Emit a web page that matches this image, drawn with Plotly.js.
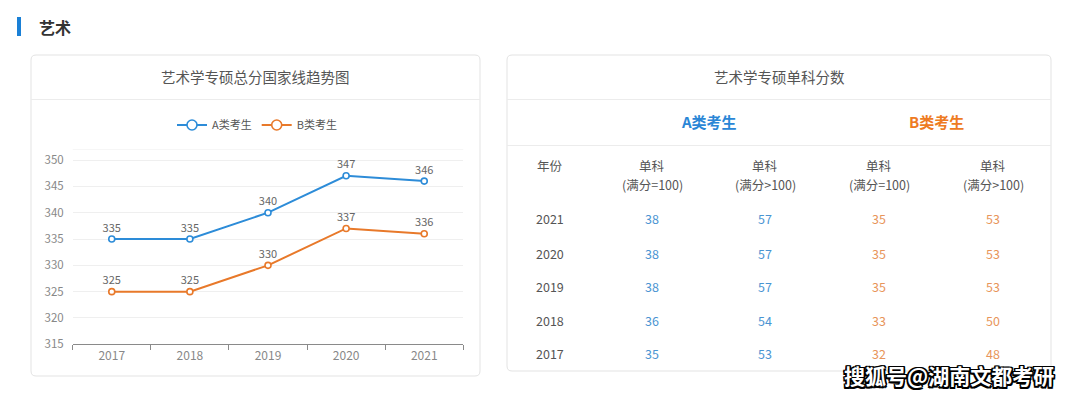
<!DOCTYPE html>
<html>
<head>
<meta charset="utf-8">
<script src="https://cdn.plot.ly/plotly-3.0.1.min.js"></script>
<style>
html,body{margin:0;padding:0;background:#fff;}
#chart{width:1080px;height:394px;}
</style>
</head>
<body>
<div id="chart"></div>
<script>
// ---- data ----
const years = ['2017', '2018', '2019', '2020', '2021'];
const scoreA = [335, 335, 340, 347, 346];
const scoreB = [325, 325, 330, 337, 336];
const seriesNames = ['A类考生', 'B类考生'];
const yTicks = [315, 320, 325, 330, 335, 340, 345, 350];

const tableYears = ['2021', '2020', '2019', '2018', '2017'];
const aSingleEq = [38, 38, 38, 36, 35];
const aSingleGt = [57, 57, 57, 54, 53];
const bSingleEq = [35, 35, 35, 33, 32];
const bSingleGt = [53, 53, 53, 50, 48];
const tableHeadTop = ['年份', '单科', '单科', '单科', '单科'];
const tableHeadSub = ['', '(满分=100)', '(满分>100)', '(满分=100)', '(满分>100)'];

// ---- layout helpers ----
const W = 1080, H = 394;
const px = x => x / W;
const py = y => 1 - y / H;
const FONT = '"Noto Sans CJK SC", "Noto Sans", sans-serif';
const BLUE = '#2d8cd8';
const ORANGE = '#e8792a';
const BLUE_T = '#4a94d2';
const ORANGE_T = '#e8955a';

function rrect(x0, y0, x1, y1, r) {
  const rx = r / W, ry = r / H;
  const X0 = px(x0), X1 = px(x1), T = py(y0), B = py(y1);
  return `M${X0 + rx},${T} L${X1 - rx},${T} Q${X1},${T} ${X1},${T - ry} L${X1},${B + ry} Q${X1},${B} ${X1 - rx},${B} L${X0 + rx},${B} Q${X0},${B} ${X0},${B + ry} L${X0},${T - ry} Q${X0},${T} ${X0 + rx},${T} Z`;
}

const shapes = [
  // section marker
  {type: 'rect', xref: 'paper', yref: 'paper', x0: px(17), x1: px(21), y0: py(17), y1: py(36), fillcolor: '#1a80d6', line: {width: 0}, layer: 'below'},
  // left card
  {type: 'path', xref: 'paper', yref: 'paper', path: rrect(31, 55, 480, 376, 5), fillcolor: '#fff', line: {color: '#e3e3e3', width: 1}, layer: 'below'},
  {type: 'line', xref: 'paper', yref: 'paper', x0: px(31), x1: px(480), y0: py(99.5), y1: py(99.5), line: {color: '#ececec', width: 1}, layer: 'below'},
  // right card
  {type: 'path', xref: 'paper', yref: 'paper', path: rrect(507, 55, 1051, 371, 5), fillcolor: '#fff', line: {color: '#e3e3e3', width: 1}, layer: 'below'},
  {type: 'line', xref: 'paper', yref: 'paper', x0: px(507), x1: px(1051), y0: py(99.5), y1: py(99.5), line: {color: '#ececec', width: 1}, layer: 'below'},
  {type: 'line', xref: 'paper', yref: 'paper', x0: px(507), x1: px(1051), y0: py(145.5), y1: py(145.5), line: {color: '#ececec', width: 1}, layer: 'below'},
  // top boundary line of plot
  {type: 'line', xref: 'x domain', yref: 'y', x0: 0, x1: 1, y0: 352, y1: 352, line: {color: '#eeeeee', width: 1}, layer: 'below'}
];

const annotations = [
  {text: '艺术', x: px(37), y: py(27), xref: 'paper', yref: 'paper', xanchor: 'left', yanchor: 'middle', showarrow: false, font: {family: FONT, size: 16, color: '#333', weight: 'bold'}},
  {text: '艺术学专硕总分国家线趋势图', x: px(255.5), y: py(77), xref: 'paper', yref: 'paper', xanchor: 'center', yanchor: 'middle', showarrow: false, font: {family: FONT, size: 14.5, color: '#555'}},
  {text: '艺术学专硕单科分数', x: px(779), y: py(77), xref: 'paper', yref: 'paper', xanchor: 'center', yanchor: 'middle', showarrow: false, font: {family: FONT, size: 14.5, color: '#555'}},
  {text: seriesNames[0], x: px(709), y: py(122), xref: 'paper', yref: 'paper', xanchor: 'center', yanchor: 'middle', showarrow: false, font: {family: FONT, size: 15, color: '#2a86d6', weight: 'bold'}},
  {text: seriesNames[1], x: px(936), y: py(122), xref: 'paper', yref: 'paper', xanchor: 'center', yanchor: 'middle', showarrow: false, font: {family: FONT, size: 15, color: '#ee7b22', weight: 'bold'}},
  {text: '搜狐号@湖南文都考研', x: px(949), y: py(375), xref: 'paper', yref: 'paper', xanchor: 'center', yanchor: 'middle', showarrow: false,
   font: {family: FONT, size: 21, color: '#ffffff', weight: 'bold', shadow: '1.5px 1.5px 0 #000, -1.5px -1.5px 0 #000, 1.5px -1.5px 0 #000, -1.5px 1.5px 0 #000, 0 1.5px 0 #000, 0 -1.5px 0 #000, 1.5px 0 0 #000, -1.5px 0 0 #000'}}
];

// table cells
const colX = [550, 652, 765, 879, 993];
const rowY = [219, 253, 286, 320, 353];
const cellFont = (c) => ({family: FONT, size: 12.5, color: c});
tableHeadTop.forEach((t, i) => {
  annotations.push({text: t, x: px(colX[i]), y: py(165), xref: 'paper', yref: 'paper', xanchor: 'center', yanchor: 'middle', showarrow: false, font: cellFont('#555')});
  if (tableHeadSub[i]) annotations.push({text: tableHeadSub[i], x: px(colX[i]), y: py(184), xref: 'paper', yref: 'paper', xanchor: 'center', yanchor: 'middle', showarrow: false, font: cellFont('#555')});
});
const cols = [tableYears, aSingleEq, aSingleGt, bSingleEq, bSingleGt];
const colColors = ['#555', BLUE_T, BLUE_T, ORANGE_T, ORANGE_T];
cols.forEach((col, ci) => {
  col.forEach((v, ri) => {
    annotations.push({text: String(v), x: px(colX[ci]), y: py(rowY[ri]), xref: 'paper', yref: 'paper', xanchor: 'center', yanchor: 'middle', showarrow: false, font: cellFont(colColors[ci])});
  });
});

const mk = (c, s) => ({symbol: 'circle', size: s, color: '#fff', line: {color: c, width: 1.6}});
const traces = [
  {x: years, y: scoreA, type: 'scatter', mode: 'lines+markers+text', name: seriesNames[0], showlegend: false,
   line: {color: BLUE, width: 2}, marker: mk(BLUE, 6), text: scoreA.map(String), textposition: 'top center',
   textfont: {family: FONT, size: 11, color: '#666'}, cliponaxis: false, hoverinfo: 'skip'},
  {x: years, y: scoreB, type: 'scatter', mode: 'lines+markers+text', name: seriesNames[1], showlegend: false,
   line: {color: ORANGE, width: 2}, marker: mk(ORANGE, 6), text: scoreB.map(String), textposition: 'top center',
   textfont: {family: FONT, size: 11, color: '#666'}, cliponaxis: false, hoverinfo: 'skip'},
  // legend entries
  {x: [null], y: [null], type: 'scatter', mode: 'lines+markers', name: seriesNames[0], line: {color: BLUE, width: 2}, marker: mk(BLUE, 10)},
  {x: [null], y: [null], type: 'scatter', mode: 'lines+markers', name: seriesNames[1], line: {color: ORANGE, width: 2}, marker: mk(ORANGE, 10)}
];

const layout = {
  width: W, height: H,
  margin: {l: 0, r: 0, t: 0, b: 0},
  paper_bgcolor: '#ffffff', plot_bgcolor: 'rgba(0,0,0,0)',
  font: {family: FONT, color: '#666'},
  showlegend: true,
  legend: {orientation: 'h', x: px(257), xanchor: 'center', y: py(125), yanchor: 'middle',
           font: {family: FONT, size: 11, color: '#555'}, bgcolor: 'rgba(0,0,0,0)', itemwidth: 30, tracegroupgap: 0},
  xaxis: {domain: [px(72.7), px(463.3)], type: 'category', range: [-0.5, 4.5], fixedrange: true,
          showline: true, linecolor: '#8a8a8a', linewidth: 1, ticks: 'outside', ticklen: 5, tickcolor: '#8a8a8a',
          tickson: 'boundaries', showgrid: false, zeroline: false,
          tickfont: {family: FONT, size: 12, color: '#888'}},
  yaxis: {domain: [py(344.3), py(149.5)], range: [315, 352], fixedrange: true, tickvals: yTicks,
          showline: false, showgrid: true, gridcolor: '#efefef', gridwidth: 1, zeroline: false, ticks: '',
          ticklabelstandoff: 8, tickfont: {family: FONT, size: 11.5, color: '#888'}},
  shapes: shapes,
  annotations: annotations
};

Plotly.newPlot('chart', traces, layout, {displayModeBar: false, staticPlot: true});
</script>
</body>
</html>
